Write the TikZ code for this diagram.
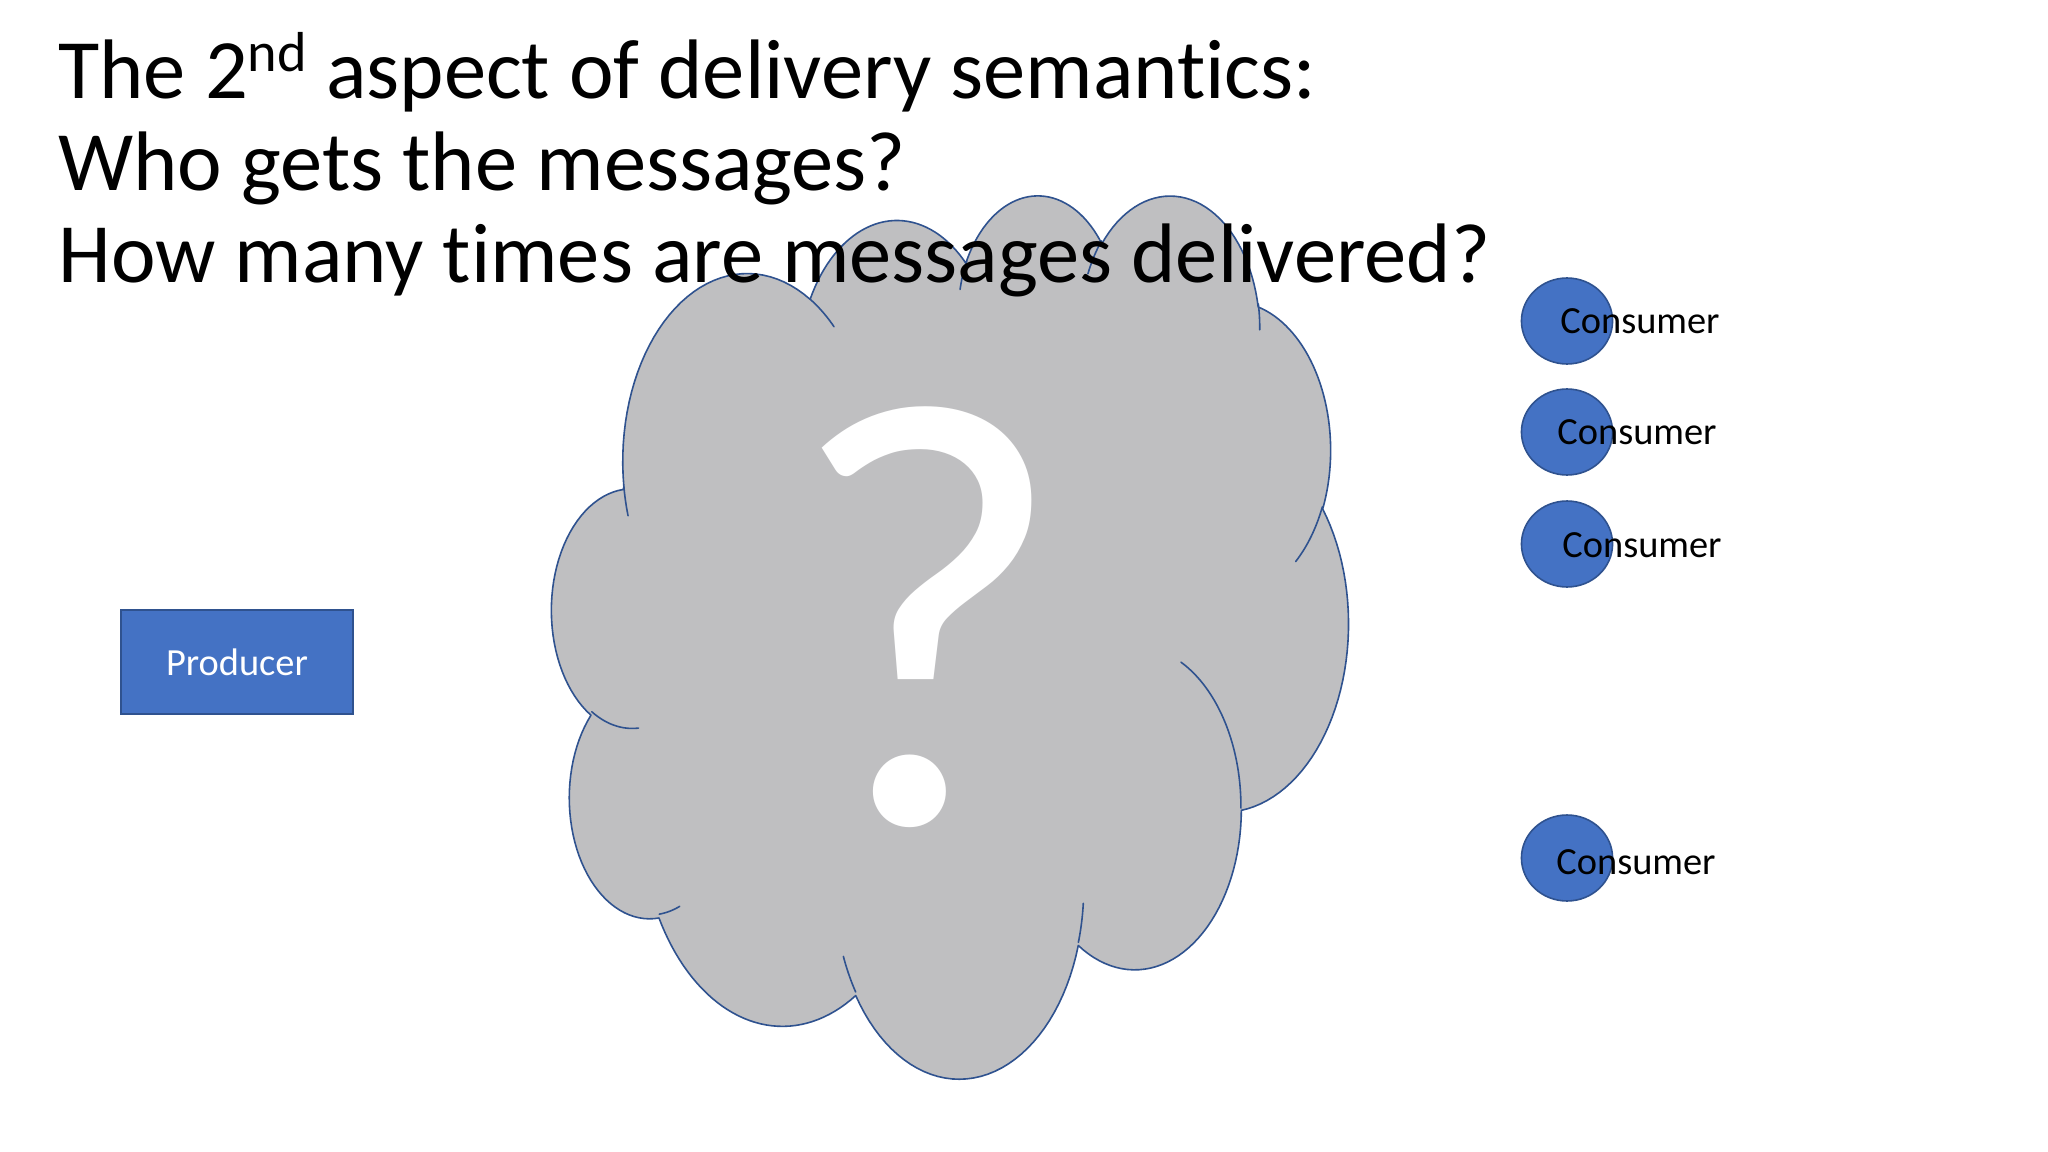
\documentclass[tikz,border=0pt]{standalone}
\usepackage{fontspec}
\setmainfont{Carlito}[Ligatures=CommonOff]
\usetikzlibrary{shapes.geometric}
\definecolor{offblue}{HTML}{4472C4}
\definecolor{edgeblue}{HTML}{2F528F}
\definecolor{cloudgray}{HTML}{BFBFC1}
\makeatletter
\newcommand\cloudcalc[5]{%
  \pgfmathsetmacro\cl@ta{atan2((#2)*sin(#4),(#3)*cos(#4))}%
  \pgfmathsetmacro\cl@tb{atan2((#2)*sin((#4)+(#5)),(#3)*cos((#4)+(#5)))}%
  \pgfmathsetmacro\cl@tb{(\cl@tb<\cl@ta) ? (\cl@tb+360) : \cl@tb}%
  \pgfmathsetmacro\cl@cx{\cloudpx-(#2)*cos(\cl@ta)}%
  \pgfmathsetmacro\cl@cy{\cloudpy-(#3)*sin(\cl@ta)}%
  \pgfmathsetmacro\cloudpx{\cl@cx+(#2)*cos(\cl@tb)}%
  \pgfmathsetmacro\cloudpy{\cl@cy+(#3)*sin(\cl@tb)}%
  \expandafter\let\csname cloudta#1\endcsname\cl@ta
  \expandafter\let\csname cloudtb#1\endcsname\cl@tb
  \expandafter\let\csname cloudcx#1\endcsname\cl@cx
  \expandafter\let\csname cloudcy#1\endcsname\cl@cy
}
\makeatother
\tikzset{
  titletext/.style={inner sep=0pt, font=\fontsize{39.6}{48}\selectfont, text=black},
  prodbox/.style={draw=edgeblue, fill=offblue, line width=0.75pt, minimum width=108.75pt, minimum height=48.75pt, inner sep=0pt, text=white, font=\fontsize{18}{21}\selectfont},
  consball/.style={ellipse, draw=edgeblue, fill=offblue, line width=0.75pt, minimum width=42.7pt, minimum height=40.3pt, inner sep=0pt},
  constext/.style={inner sep=0pt, text=black, font=\fontsize{18}{21}\selectfont},
  cloudshape/.style={fill=cloudgray, draw=edgeblue, line width=0.75pt, line join=round},
  cloudline/.style={draw=edgeblue, line width=0.75pt, line cap=round},
  pl/.style={samples=40, variable=\cloudt}
}
\begin{document}
\begin{tikzpicture}[x=0.46875pt,y=-0.46875pt]
\useasboundingbox (0,0) rectangle (2048,1152);
\fill[white] (0,0) rectangle (2048,1152);
% cloud geometry
\def\cloudpx{3.9}\def\cloudpy{14.37}
\cloudcalc{a}{6.753}{9.19}{-190.48748}{123.78053}
\cloudcalc{b}{5.333}{7.267}{-144.10238}{89.94523}
\cloudcalc{c}{4.365}{5.945}{-145.80792}{99.72302}
\cloudcalc{d}{4.857}{6.595}{-130.98607}{117.24173}
\cloudcalc{e}{5.333}{7.273}{-78.70888}{109.02692}
\cloudcalc{f}{6.775}{9.22}{-46.26725}{130.269}
\cloudcalc{g}{5.785}{7.867}{0.62502}{114.03333}
\cloudcalc{h}{6.752}{9.215}{22.4516}{115.17255}
\cloudcalc{i}{7.72}{10.543}{66.24263}{75.71102}
\cloudcalc{j}{4.36}{5.918}{-274.94208}{146.73557}
\cloudcalc{k}{4.345}{5.945}{-246.8285}{152.51885}
\def\cloudpx{4.693}\def\cloudpy{26.177}\cloudcalc{l}{4.345}{5.945}{86.742}{26.4295}
\def\cloudpx{6.928}\def\cloudpy{34.899}\cloudcalc{m}{4.36}{5.918}{73.61047}{11.44747}
\def\cloudpx{16.478}\def\cloudpy{39.09}\cloudcalc{n}{6.752}{9.215}{137.62415}{14.0811}
\def\cloudpx{28.827}\def\cloudpy{34.751}\cloudcalc{o}{6.752}{9.215}{6.45327}{15.99835}
\def\cloudpx{34.129}\def\cloudpy{22.954}\cloudcalc{p}{5.785}{7.867}{-70.29235}{70.91737}
\def\cloudpx{41.798}\def\cloudpy{15.354}\cloudcalc{q}{5.333}{7.273}{30.31803}{27.7515}
\def\cloudpx{38.324}\def\cloudpy{5.426}\cloudcalc{r}{4.857}{6.595}{-13.74433}{14.85762}
\def\cloudpx{29.078}\def\cloudpy{3.952}\cloudcalc{s}{4.857}{6.595}{-149.18145}{18.19588}
\def\cloudpx{22.141}\def\cloudpy{4.72}\cloudcalc{t}{4.365}{5.945}{-163.49427}{17.6881}
\def\cloudpx{14.0}\def\cloudpy{5.192}\cloudcalc{u}{6.753}{9.19}{-66.70695}{12.31935}
\def\cloudpx{4.127}\def\cloudpy{15.789}\cloudcalc{v}{6.753}{9.19}{157.65435}{11.85817}
\begin{scope}[shift={(552,193)}, xscale=18.43, yscale=20.44]
\path[cloudshape]
  plot[pl, domain=\cloudtaa:\cloudtba] ({\cloudcxa+6.753*cos(\cloudt)},{\cloudcya+9.19*sin(\cloudt)})
  -- plot[pl, domain=\cloudtab:\cloudtbb] ({\cloudcxb+5.333*cos(\cloudt)},{\cloudcyb+7.267*sin(\cloudt)})
  -- plot[pl, domain=\cloudtac:\cloudtbc] ({\cloudcxc+4.365*cos(\cloudt)},{\cloudcyc+5.945*sin(\cloudt)})
  -- plot[pl, domain=\cloudtad:\cloudtbd] ({\cloudcxd+4.857*cos(\cloudt)},{\cloudcyd+6.595*sin(\cloudt)})
  -- plot[pl, domain=\cloudtae:\cloudtbe] ({\cloudcxe+5.333*cos(\cloudt)},{\cloudcye+7.273*sin(\cloudt)})
  -- plot[pl, domain=\cloudtaf:\cloudtbf] ({\cloudcxf+6.775*cos(\cloudt)},{\cloudcyf+9.22*sin(\cloudt)})
  -- plot[pl, domain=\cloudtag:\cloudtbg] ({\cloudcxg+5.785*cos(\cloudt)},{\cloudcyg+7.867*sin(\cloudt)})
  -- plot[pl, domain=\cloudtah:\cloudtbh] ({\cloudcxh+6.752*cos(\cloudt)},{\cloudcyh+9.215*sin(\cloudt)})
  -- plot[pl, domain=\cloudtai:\cloudtbi] ({\cloudcxi+7.72*cos(\cloudt)},{\cloudcyi+10.543*sin(\cloudt)})
  -- plot[pl, domain=\cloudtaj:\cloudtbj] ({\cloudcxj+4.36*cos(\cloudt)},{\cloudcyj+5.918*sin(\cloudt)})
  -- plot[pl, domain=\cloudtak:\cloudtbk] ({\cloudcxk+4.345*cos(\cloudt)},{\cloudcyk+5.945*sin(\cloudt)})
  -- cycle;
\path[cloudline]
  plot[pl, domain=\cloudtal:\cloudtbl] ({\cloudcxl+4.345*cos(\cloudt)},{\cloudcyl+5.945*sin(\cloudt)})
  plot[pl, domain=\cloudtam:\cloudtbm] ({\cloudcxm+4.36*cos(\cloudt)},{\cloudcym+5.918*sin(\cloudt)})
  plot[pl, domain=\cloudtan:\cloudtbn] ({\cloudcxn+6.752*cos(\cloudt)},{\cloudcyn+9.215*sin(\cloudt)})
  plot[pl, domain=\cloudtao:\cloudtbo] ({\cloudcxo+6.752*cos(\cloudt)},{\cloudcyo+9.215*sin(\cloudt)})
  plot[pl, domain=\cloudtap:\cloudtbp] ({\cloudcxp+5.785*cos(\cloudt)},{\cloudcyp+7.867*sin(\cloudt)})
  plot[pl, domain=\cloudtaq:\cloudtbq] ({\cloudcxq+5.333*cos(\cloudt)},{\cloudcyq+7.273*sin(\cloudt)})
  plot[pl, domain=\cloudtar:\cloudtbr] ({\cloudcxr+4.857*cos(\cloudt)},{\cloudcyr+6.595*sin(\cloudt)})
  plot[pl, domain=\cloudtas:\cloudtbs] ({\cloudcxs+4.857*cos(\cloudt)},{\cloudcys+6.595*sin(\cloudt)})
  plot[pl, domain=\cloudtat:\cloudtbt] ({\cloudcxt+4.365*cos(\cloudt)},{\cloudcyt+5.945*sin(\cloudt)})
  plot[pl, domain=\cloudtau:\cloudtbu] ({\cloudcxu+6.753*cos(\cloudt)},{\cloudcyu+9.19*sin(\cloudt)})
  plot[pl, domain=\cloudtav:\cloudtbv] ({\cloudcxv+6.753*cos(\cloudt)},{\cloudcyv+9.19*sin(\cloudt)});
\end{scope}
% question mark
\node[inner sep=0pt, anchor=base, text=white, font=\fontsize{286}{290}\selectfont] (qm) at (927,823) {?};
% title
\node[titletext, anchor=base west] (t1) at (58,99) {The 2\raisebox{13pt}{\fontsize{26.4}{30}\selectfont nd} aspect of delivery semantics:};
\node[titletext, anchor=base west] (t2) at (58,191) {Who gets the messages?};
\node[titletext, anchor=base west] (t3) at (58,283) {How many times are messages delivered?};
% producer
\node[prodbox] (prod) at (237,662) {Producer};
% consumers
\node[consball] (c1) at (1567,321) {};
\node[consball] (c2) at (1567,432) {};
\node[consball] (c3) at (1567,544) {};
\node[consball] (c4) at (1567,858) {};
\node[constext] (c1t) at (1640,321) {Consumer};
\node[constext] (c2t) at (1637,432) {Consumer};
\node[constext] (c3t) at (1642,545) {Consumer};
\node[constext] (c4t) at (1636,862) {Consumer};
\end{tikzpicture}
\end{document}
